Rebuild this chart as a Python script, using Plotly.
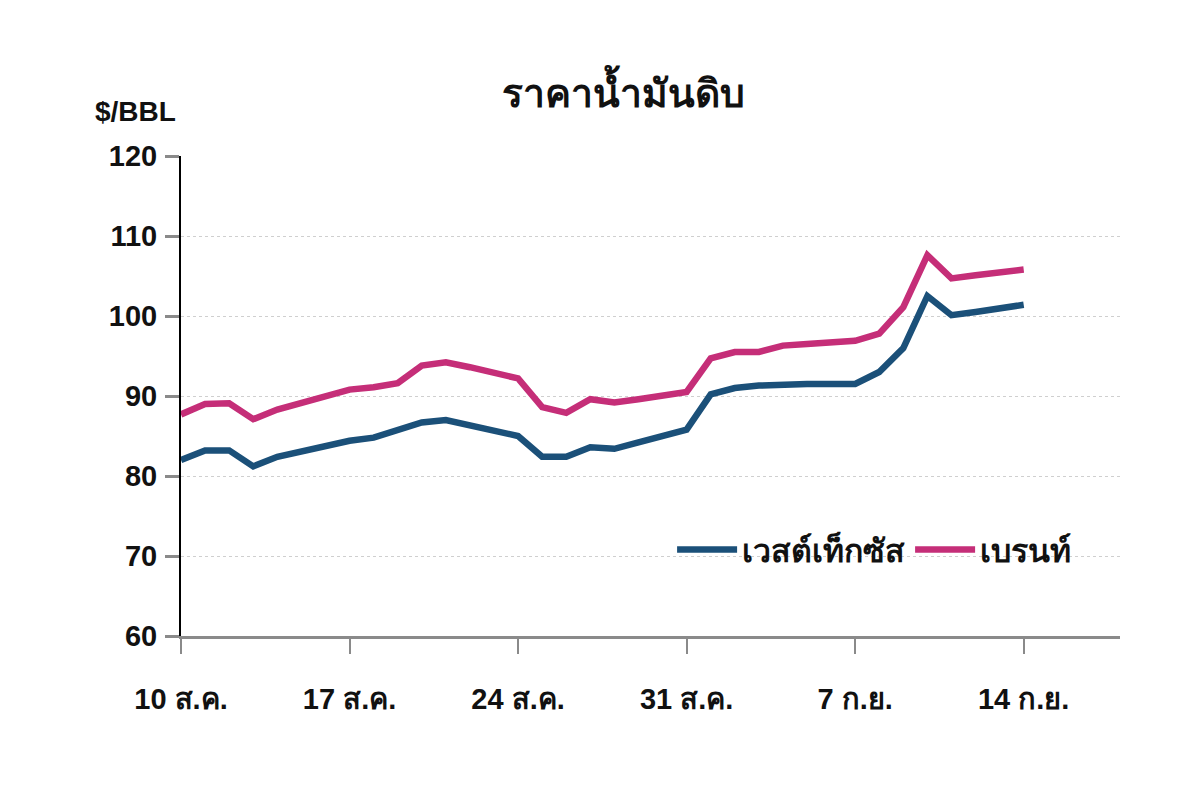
import pandas as pd
import plotly.graph_objects as go

# daily prices, 10 Aug - 14 Sep ($/BBL)
start_date = "2012-08-10"
wti = [
    82.0, 83.2, 83.2, 81.2, 82.4, 83.1, 83.7, 84.4, 84.8, 85.7,
    86.7, 87.0, 86.3, 85.6, 85.0, 82.4, 82.4, 83.6, 83.4, 84.2,
    85.0, 85.8, 90.2, 91.0, 91.3, 91.5, 91.5, 91.5, 91.5, 93.0,
    96.0, 102.5, 100.1, 100.5, 101.0, 101.4,
]
brent = [
    87.7, 89.0, 89.1, 87.1, 88.3, 89.1, 89.9, 90.8, 91.1, 91.6,
    93.8, 94.2, 93.6, 92.9, 92.2, 88.6, 87.9, 89.6, 89.2, 89.6,
    90.1, 90.5, 94.7, 95.5, 95.5, 96.3, 96.5, 96.7, 96.9, 97.8,
    101.1, 107.6, 104.7, 105.1, 105.4, 105.8,
]
series_names = ["เวสต์เท็กซัส", "เบรนท์"]
tick_dates = ["2012-08-10", "2012-08-17", "2012-08-24", "2012-08-31", "2012-09-07", "2012-09-14"]
tick_labels = ["10 ส.ค.", "17 ส.ค.", "24 ส.ค.", "31 ส.ค.", "7 ก.ย.", "14 ก.ย."]
y_ticks = [60, 70, 80, 90, 100, 110, 120]

dates = pd.date_range(start_date, periods=len(wti), freq="D")

FONT = "Liberation Sans, Arial, Noto Sans, sans-serif"
BLUE = "#1b5079"
PINK = "#c52e78"

fig = go.Figure()
fig.add_scatter(x=dates, y=wti, mode="lines", name=series_names[0],
                line=dict(color=BLUE, width=6.5))
fig.add_scatter(x=dates, y=brent, mode="lines", name=series_names[1],
                line=dict(color=PINK, width=6.5))

# page body adds 8px, margins are trimmed to compensate
fig.update_layout(
    width=1200, height=785,
    plot_bgcolor="white", paper_bgcolor="white",
    margin=dict(l=173, r=88, t=148, b=157),
    font=dict(family=FONT, size=22, color="#111"),
    showlegend=True,
    legend=dict(
        orientation="h", x=0.523, y=0.18, xanchor="left", yanchor="middle",
        bgcolor="rgba(255,255,255,0)", font=dict(size=32, weight="bold"),
        itemwidth=60, tracegroupgap=0,
    ),
)

fig.update_xaxes(
    range=[pd.Timestamp("2012-08-10"), pd.Timestamp("2012-09-18")],
    tickvals=pd.to_datetime(tick_dates), ticktext=tick_labels,
    showgrid=False, zeroline=False,
    showline=True, linecolor="#8a8a8a", linewidth=3,
    ticks="outside", ticklen=15, tickwidth=2, tickcolor="#8a8a8a",
    tickfont=dict(size=29, weight="bold"), ticklabelstandoff=20,
)
fig.update_yaxes(
    range=[60, 120], tickvals=y_ticks,
    showgrid=True, gridcolor="#cfcfcf", gridwidth=1, griddash="dot",
    zeroline=False,
    showline=True, linecolor="black", linewidth=2,
    ticks="outside", ticklen=14, tickwidth=3, tickcolor="#8a8a8a",
    tickfont=dict(size=29, weight="bold"), ticklabelstandoff=2,
)

fig.add_annotation(
    text="ราคาน้ำมันดิบ", xref="paper", yref="paper", x=0.471, y=1.1375,
    xanchor="center", yanchor="middle",
    showarrow=False, font=dict(size=39, weight="bold"),
)
fig.add_annotation(
    text="$/BBL", xref="paper", yref="paper", x=-0.048, y=1.092,
    xanchor="center", yanchor="middle",
    showarrow=False, font=dict(size=28, weight="bold"),
)

fig.write_html("out.html")
